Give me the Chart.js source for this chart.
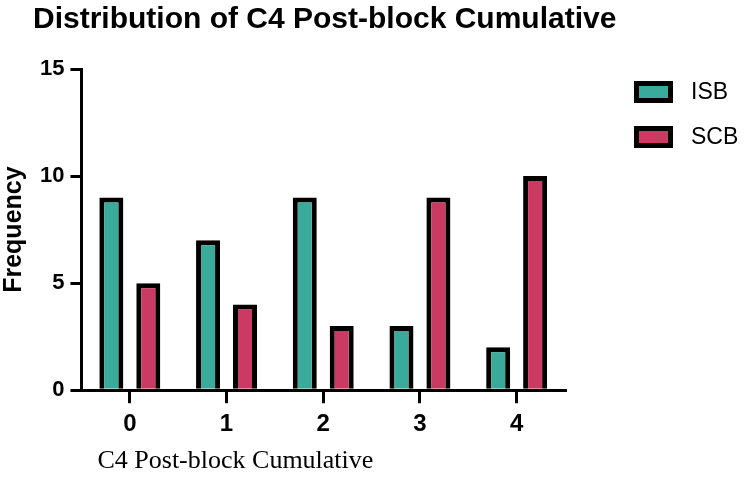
<!DOCTYPE html>
<html>
<head>
<meta charset="utf-8">
<script src="https://cdn.jsdelivr.net/npm/chart.js@4"></script>
<style>
  html, body { margin: 0; padding: 0; background: #fff; }
  #wrap { width: 744px; height: 477px; position: relative; }
</style>
</head>
<body>
<div id="wrap"><canvas id="chart"></canvas></div>
<script>
const categories = ['0', '1', '2', '3', '4'];
const isbValues = [9, 7, 9, 3, 2];
const scbValues = [5, 4, 3, 9, 10];
const yTicks = [0, 5, 10, 15];

const chartTitle = 'Distribution of C4 Post-block Cumulative';
const xTitle = 'C4 Post-block Cumulative';
const yTitle = 'Frequency';

const SANS = "'Liberation Sans', Arial, sans-serif";
const SERIF = "'Liberation Serif', 'Times New Roman', serif";

// title, x title and legend are placed by hand, like the original figure
const extraText = {
  id: 'extraText',
  afterDraw(chart) {
    const { ctx, chartArea } = chart;
    ctx.save();
    ctx.fillStyle = '#000';
    ctx.textAlign = 'left';
    ctx.textBaseline = 'alphabetic';
    ctx.font = 'bold 30px ' + SANS;
    ctx.fillText(chartTitle, 33, 28);

    ctx.font = '26px ' + SERIF;
    ctx.fillText(xTitle, chartArea.left + 16, 468);

    ctx.font = '23px ' + SANS;
    ctx.textBaseline = 'middle';
    chart.data.datasets.forEach((ds, i) => {
      const cy = 92 + i * 45;
      ctx.fillStyle = ds.backgroundColor;
      ctx.fillRect(634, cy - 11, 39, 22);
      ctx.strokeStyle = '#000';
      ctx.lineWidth = 5;
      ctx.strokeRect(636.5, cy - 8.5, 34, 17);
      ctx.fillStyle = '#000';
      ctx.fillText(ds.label, 691, cy + 1);
    });
    ctx.restore();
  }
};

new Chart(document.getElementById('chart'), {
  type: 'bar',
  data: {
    labels: categories,
    datasets: [
      { label: 'ISB', data: isbValues, backgroundColor: '#3aab9a' },
      { label: 'SCB', data: scbValues, backgroundColor: '#ca3a63' },
    ],
  },
  options: {
    responsive: true, maintainAspectRatio: false,
    animation: false,
    layout: { padding: { top: 69, right: 179, bottom: 31, left: 0 } },
    datasets: {
      bar: {
        borderColor: '#000', borderWidth: 5,
        categoryPercentage: 0.764, barPercentage: 0.65,
      },
    },
    plugins: {
      legend: { display: false },
      title: { display: false },
      tooltip: { enabled: false },
    },
    scales: {
      x: {
        grid: { offset: false, drawOnChartArea: false, tickLength: 13, lineWidth: 3, color: '#000' },
        border: { color: '#000', width: 3 },
        ticks: { color: '#000', padding: 7, font: { family: SANS, size: 24, weight: 'bold' } },
      },
      y: {
        min: 0, max: 15,
        afterBuildTicks: (scale) => { scale.ticks = yTicks.map((v) => ({ value: v })); },
        grid: { drawOnChartArea: false, tickLength: 11, lineWidth: 3, color: '#000' },
        border: { color: '#000', width: 3 },
        ticks: { color: '#000', padding: 6, font: { family: SANS, size: 22, weight: 'bold' } },
        title: {
          display: true, text: yTitle, color: '#000',
          font: { family: SANS, size: 25, weight: 'bold', lineHeight: 1 },
          padding: { top: 2, bottom: 7 },
        },
      },
    },
  },
  plugins: [extraText],
});
</script>
</body>
</html>
